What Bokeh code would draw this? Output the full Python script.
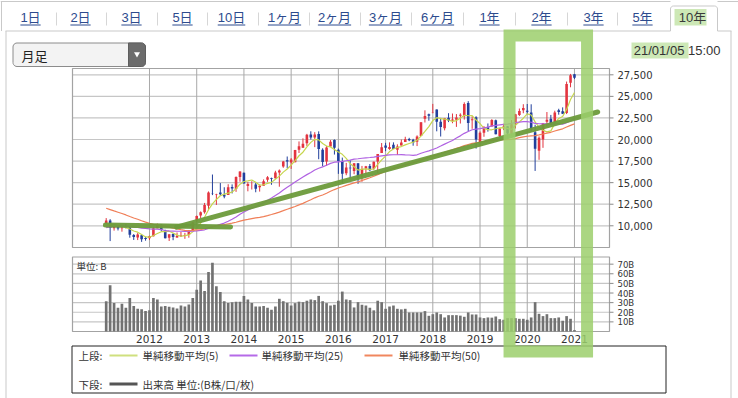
import math
from bokeh.plotting import figure
from bokeh.models import Range1d, ColumnDataSource
from bokeh.core.properties import value
from bokeh.embed import file_html
from bokeh.resources import INLINE

# ---------------- data (monthly, Feb 2011 .. Jan 2021) ----------------
opens = [10274, 10623, 9719, 9850, 9720, 9868, 9805, 8940, 8635, 8898, 8596,
         8549, 8790, 9707, 10109, 9493, 8623, 9049, 8651, 8795, 8812, 8938, 9484,
         10604, 11198, 11581, 12336, 13799, 13627, 13852, 13612, 13572, 14484, 14275, 15655,
         16147, 14619, 14801, 14791, 14457, 14649, 15326, 15500, 15496, 16170, 16862, 17590,
         17325, 17361, 18826, 19034, 19570, 20572, 20235, 20627, 18815, 17446, 19187, 19934,
         18818, 17520, 16085, 16719, 16357, 17251, 15682, 16635, 16926, 16598, 17442, 18435,
         19298, 18914, 19393, 18810, 19310, 19722, 20055, 19986, 19733, 20400, 22420, 22916,
         23074, 23486, 22069, 21292, 22508, 22171, 22303, 22746, 22707, 24245, 22243, 22574,
         19655, 20797, 21416, 21509, 22238, 20410, 21422, 21540, 20681, 21831, 22851, 23388,
         23319, 23129, 20850, 18686, 19991, 22062, 22420, 21963, 23377, 23262, 23075, 26580,
         27575]
highs = [10891, 10768, 9849, 10017, 9876, 10207, 9868, 9040, 9152, 8990, 8723,
         8860, 9866, 10255, 10190, 9542, 9034, 9136, 9222, 9288, 9180, 9496, 10433,
         11191, 11662, 12650, 13980, 15942, 13711, 14953, 14466, 14817, 14799, 15727, 16320,
         16164, 15062, 15164, 15007, 14800, 15376, 15759, 15579, 16374, 16533, 17520, 18030,
         17850, 18798, 19778, 20133, 20655, 20952, 20850, 20946, 18982, 19251, 19937, 20012,
         18951, 17905, 17291, 17613, 17251, 17251, 16938, 16940, 17159, 17446, 18322, 19592,
         19615, 19668, 19668, 19445, 19998, 20318, 20196, 20080, 20481, 22012, 23382, 23000,
         24129, 23486, 22502, 22500, 23050, 23011, 22949, 23032, 24306, 24448, 22698, 22698,
         20940, 21556, 21860, 22362, 22307, 21286, 21823, 21540, 22255, 22974, 23592, 24092,
         24115, 24083, 21719, 20365, 21917, 23185, 22851, 23338, 23564, 23725, 26716, 27602,
         27602]
lows = [10250, 8227, 9441, 9460, 9318, 9696, 8619, 8359, 8343, 8135, 8272,
        8349, 8765, 9707, 9388, 8541, 8238, 8328, 8604, 8700, 8489, 8619, 9446,
        10434, 10880, 11406, 11805, 13555, 12415, 13505, 13188, 13572, 13748, 13932, 15112,
        14914, 13995, 14203, 13885, 13964, 14649, 15090, 14753, 15462, 14529, 16720, 16672,
        16592, 17361, 18437, 19034, 19258, 19990, 19115, 17714, 16901, 16930, 19187, 18256,
        16017, 14865, 15861, 15471, 15975, 14864, 15106, 15998, 16359, 16484, 16111, 18435,
        18650, 18805, 18909, 18224, 19310, 19722, 19807, 19280, 19240, 20400, 21972, 22177,
        23037, 20950, 20347, 21056, 22018, 21888, 21462, 21851, 22307, 20971, 21243, 18948,
        19241, 20315, 20911, 21509, 20601, 20289, 21087, 20110, 20409, 21276, 22726, 23044,
        22892, 20916, 16358, 17646, 19035, 21529, 21710, 21963, 22878, 22948, 22948, 26055,
        27002]
closes = [10624, 9755, 9849, 9693, 9816, 9833, 8955, 8700, 8988, 8434, 8455,
          8803, 9723, 10084, 9521, 8543, 9007, 8695, 8840, 8870, 8928, 9446, 10395,
          11139, 11559, 12398, 13861, 13775, 13677, 13668, 13389, 14456, 14328, 15662, 16291,
          14915, 14841, 14828, 14304, 14632, 15162, 15621, 15425, 16174, 16414, 17460, 17451,
          17674, 18798, 19207, 19520, 20563, 20236, 20585, 18890, 17388, 19083, 19747, 19034,
          17518, 16027, 16759, 16666, 17235, 15576, 16569, 16887, 16450, 17425, 18308, 19114,
          19041, 19119, 18909, 19197, 19651, 20033, 19925, 19646, 20356, 22012, 22725, 22765,
          23098, 22068, 21454, 22468, 22202, 22305, 22554, 22865, 24120, 21920, 22351, 20015,
          20773, 21385, 21206, 22259, 20601, 21276, 21521, 20704, 21756, 22927, 23294, 23657,
          23205, 21143, 18917, 20194, 21878, 22288, 21710, 23140, 23185, 22977, 26434, 27444,
          27158]
# volume, billions of shares
volumes = [31.5, 48, 29.5, 24.7, 28.8, 24.7, 34.7, 26.4, 23.6, 23, 21.2,
           22, 34.7, 33.3, 26, 26.4, 25.7, 25, 24, 27, 26, 28, 34.7,
           43.4, 53, 42, 61.8, 71.5, 47, 41, 31.5, 29.5, 30.5, 31, 31,
           37, 33.3, 29.5, 26, 26, 26.5, 24.7, 22.6, 26, 34, 31.5, 29.8,
           27, 29.5, 31, 30.5, 32, 33.3, 32.6, 37, 31.5, 29.5, 27, 27.8,
           32, 41.5, 33.3, 32.6, 25, 30.5, 27.8, 27, 24.7, 22, 32, 30.5,
           23.6, 26, 27, 23.6, 23, 23.6, 19.8, 19.8, 19.8, 19.8, 21.2, 16.3,
           18, 19.8, 18, 14.6, 17, 17, 17, 16.5, 15.3, 19.8, 17.7, 17.7,
           14.6, 13.9, 14.6, 14.4, 15.6, 12.8, 12.2, 13.9, 13.9, 13.9, 13.2, 13.2,
           12.2, 14.6, 30.5, 18.4, 16, 18, 13.9, 13.9, 14.6, 11.2, 16, 13.2,
           1.5]
# closes before the first candle (Jan 2007 .. Jan 2011), used by the moving averages
closes_before = [17383, 17604, 17288, 17400, 17875, 18138, 17248, 16569, 16785, 16737, 15680, 15307,
                 13592, 13603, 12525, 13849, 14338, 13481, 13376, 13072, 11259, 8576, 8512, 8859,
                 7994, 7568, 8109, 8828, 9522, 9958, 10356, 10492, 10133, 10034, 9345, 10546,
                 10198, 10126, 11089, 11057, 9768, 9382, 9537, 8824, 9369, 9202, 9937, 10228,
                 10237]
first_year, first_month = 2011, 2
year_labels = ["2012", "2013", "2014", "2015", "2016", "2017", "2018", "2019", "2020", "2021"]
price_ticks = [10000, 12500, 15000, 17500, 20000, 22500, 25000, 27500]
price_tick_labels = ["10,000", "12,500", "15,000", "17,500", "20,000", "22,500", "25,000", "27,500"]
vol_ticks = [10, 20, 30, 40, 50, 60, 70]
vol_tick_labels = ["10B", "20B", "30B", "40B", "50B", "60B", "70B"]
ma_periods = [5, 25, 50]
ma_names = ["単純移動平均(5)", "単純移動平均(25)", "単純移動平均(50)"]
tab_labels = ["1日", "2日", "3日", "5日", "10日", "1ヶ月", "2ヶ月", "3ヶ月", "6ヶ月",
              "1年", "2年", "3年", "5年", "10年"]
selected_tab = "10年"
period_label = "月足"
timestamp_date = "21/01/05"
timestamp_time = "15:00"
volume_unit = "単位: B"
legend_upper = "上段:"
legend_lower = "下段:"
legend_volume = "出来高 単位:(B株/口/枚)"
# hand-drawn trend lines (month index, price)
trend_a_month = [-0.2, 31.6]
trend_a_price = [10090, 9860]
trend_b_month = [17.9, 124.9]
trend_b_price = [9850, 23190]
# highlighted period (month index span)
highlight_months = [102.5, 122.2]

# ---------------- layout (page pixels) ----------------
W, H = 738, 398
LEFT, TOP = 0, 0
X_M0, X_MD = 105.7, 3.935            # month index -> page x
P_REF, Y_REF, P_SC = 27500, 74.3, 0.008628   # price -> page y
V_ZERO_Y, V_SC = 331.0, 0.962        # volume -> page y
PF = (72, 68, 609, 247)              # price frame l, t, r, b
VF = (72, 256.5, 609, 331)           # volume frame

def price_at(y):
    return P_REF - (y - Y_REF) / P_SC

def vol_at(y):
    return (V_ZERO_Y - y) / V_SC

p = figure(width=W, height=H, output_backend="svg", toolbar_location=None,
           x_range=Range1d(LEFT, LEFT + W), y_range=Range1d(TOP + H, TOP),
           x_axis_type=None, y_axis_type=None, min_border=0,
           outline_line_color=None, background_fill_color="white",
           border_fill_color="white")
p.extra_x_ranges = {"m": Range1d((LEFT - X_M0) / X_MD, (LEFT + W - X_M0) / X_MD)}
p.extra_y_ranges = {"price": Range1d(price_at(TOP + H), price_at(TOP)),
                    "vol": Range1d(vol_at(TOP + H), vol_at(TOP))}

JP = value("Noto Sans CJK JP")
LAT = value("Liberation Sans, Noto Sans CJK JP")
DV = value("DejaVu Sans")
DVC = value("DejaVu Sans Condensed")

def rounded(x0, y0, x1, y1, r, corners=(1, 1, 1, 1)):
    # corners: top-left, top-right, bottom-right, bottom-left (page coords, y down)
    xs, ys = [], []
    spec = [((x0 + r, y0 + r), 180, 270, (x0, y0)),
            ((x1 - r, y0 + r), 270, 360, (x1, y0)),
            ((x1 - r, y1 - r), 0, 90, (x1, y1)),
            ((x0 + r, y1 - r), 90, 180, (x0, y1))]
    for use, ((cx, cy), a0, a1, corner) in zip(corners, spec):
        if not use:
            xs.append(corner[0])
            ys.append(corner[1])
            continue
        for k in range(7):
            a = math.radians(a0 + (a1 - a0) * k / 6)
            xs.append(cx + r * math.cos(a))
            ys.append(cy + r * math.sin(a))
    return xs, ys

# ---------------- panel / tabs ----------------
panel = "#c9c9c9"
p.segment(x0=[5, 717, 0, 717], x1=[670, 731, 670, 738], y0=[30.5, 30.5, 1, 1], y1=[30.5, 30.5, 1, 1],
          line_color=panel, line_width=1)
p.segment(x0=[5.5, 730.5, 1], x1=[5.5, 730.5, 1], y0=[30.5, 30.5, 1], y1=[398, 398, 30.5], line_color=panel)
tx, ty = rounded(670, 5.5, 717, 40, 3, (1, 1, 0, 0))
p.line(x=tx[:14], y=ty[:14], line_color=panel)
p.segment(x0=[670, 717], x1=[670, 717], y0=[8, 8], y1=[30.5, 30.5], line_color=panel)

tab_x = [30, 80, 131, 182, 231, 284, 334, 385, 437, 489, 541, 593, 642, 692]
sep_x = [56, 106, 157, 207, 258, 309, 360, 411, 463, 515, 567, 617]
p.segment(x0=sep_x, x1=sep_x, y0=[12] * len(sep_x), y1=[25] * len(sep_x), line_color="#d6d6d6")
sel = tab_labels.index(selected_tab)
p.quad(left=[674], right=[706], top=[8.5], bottom=[25], fill_color="#c8e6ae", fill_alpha=0.9, line_color=None)
fs = 13
ux0, ux1 = [], []
for i, lab in enumerate(tab_labels):
    if i == sel:
        continue
    w = sum(fs * 0.56 if ord(c) < 128 else fs for c in lab)
    ux0.append(tab_x[i] - w / 2)
    ux1.append(tab_x[i] + w / 2)
p.segment(x0=ux0, x1=ux1, y0=[24.5] * len(ux0), y1=[24.5] * len(ux0), line_color="#2d4b8e", line_width=1)
p.text(x=[tab_x[i] for i in range(len(tab_labels)) if i != sel], y=[17] * (len(tab_labels) - 1),
       text=[l for i, l in enumerate(tab_labels) if i != sel], text_align="center", text_baseline="middle",
       text_font=LAT, text_font_size=f"{fs}px", text_color="#2d4b8e")
p.text(x=[tab_x[sel]], y=[17], text=[selected_tab], text_align="center", text_baseline="middle",
       text_font=LAT, text_font_size=f"{fs}px", text_color="#3a3a3a")

# ---------------- dropdown ----------------
dx, dy = rounded(12.5, 42.5, 145, 66, 4)
p.patch(x=dx, y=dy, fill_color="#f3f3f3", line_color="#8c8c8c", line_width=1)
bx, by = rounded(128, 42.5, 145, 66, 4, (0, 1, 1, 0))
p.patch(x=bx, y=by, fill_color="#6c6c6c", line_color="#5e5e5e")
p.scatter(x=[136.5], y=[53.5], marker="inverted_triangle", size=6, fill_color="white", line_color=None)
p.text(x=[21], y=[54.5], text=[period_label], text_align="left", text_baseline="middle",
       text_font=JP, text_font_size="13px", text_color="#222222")

# ---------------- timestamp ----------------
p.quad(left=[631], right=[688], top=[42], bottom=[58], fill_color="#c8e6ae", fill_alpha=0.9, line_color=None)
p.text(x=[720], y=[50], text=[timestamp_date + " " + timestamp_time], text_align="right",
       text_baseline="middle", text_font=value("Liberation Sans"), text_font_size="13px", text_color="#333333")

# ---------------- grids & frames ----------------
year_idx = [(int(y) - first_year) * 12 + 1 - first_month for y in year_labels]
hgrid = "#c6c6c6"
vgrid = "#a9a9a9"
p.segment(x0=[PF[0]] * len(price_ticks), x1=[PF[2]] * len(price_ticks), y0=price_ticks, y1=price_ticks,
          y_range_name="price", line_color=hgrid, line_width=1.2)
p.segment(x0=[VF[0]] * len(vol_ticks), x1=[VF[2]] * len(vol_ticks), y0=vol_ticks, y1=vol_ticks,
          y_range_name="vol", line_color=hgrid, line_width=1.2)
p.segment(x0=year_idx, x1=year_idx, y0=[PF[1]] * len(year_idx), y1=[PF[3]] * len(year_idx),
          x_range_name="m", line_color=vgrid)
p.segment(x0=year_idx, x1=year_idx, y0=[VF[1]] * len(year_idx), y1=[VF[3]] * len(year_idx),
          x_range_name="m", line_color=vgrid)
for fr in (PF, VF):
    p.quad(left=[fr[0]], right=[fr[2]], top=[fr[1]], bottom=[fr[3]], fill_alpha=0,
           line_color="#a3a3a3", line_width=1.2)

# ---------------- volume bars ----------------
idx = list(range(len(closes)))
p.vbar(x=idx, top=volumes, bottom=0, width=0.68, x_range_name="m", y_range_name="vol",
       fill_color="#727272", line_color=None)

# ---------------- candles ----------------
up_col, dn_col = "#e3343f", "#213f9c"
cols = [up_col if c >= o else dn_col for o, c in zip(opens, closes)]
src = ColumnDataSource(dict(x=idx, o=opens, h=highs, l=lows, c=closes,
                            top=[max(o, c) for o, c in zip(opens, closes)],
                            bot=[min(o, c) for o, c in zip(opens, closes)], col=cols))
p.segment(x0="x", x1="x", y0="h", y1="l", source=src, line_color="col", line_width=1,
          x_range_name="m", y_range_name="price")
p.vbar(x="x", top="top", bottom="bot", width=0.66, source=src, fill_color="col", line_color=None,
       x_range_name="m", y_range_name="price")

# ---------------- moving averages ----------------
ma_colors = ["#c6d64e", "#b062e2", "#f07f58"]
all_closes = closes_before + closes
nb = len(closes_before)
for n, colr in zip(ma_periods, ma_colors):
    ma = [sum(all_closes[nb + k - n + 1: nb + k + 1]) / n for k in idx]
    p.line(x=idx, y=ma, line_color=colr, line_width=1.2, x_range_name="m", y_range_name="price")

# ---------------- trend lines ----------------
p.line(x=trend_a_month, y=trend_a_price, line_color="#6d9b3b", line_width=5, line_alpha=0.95,
       line_cap="round", x_range_name="m", y_range_name="price")
p.line(x=trend_b_month, y=trend_b_price, line_color="#6d9b3b", line_width=5, line_alpha=0.95,
       line_cap="round", x_range_name="m", y_range_name="price")

# ---------------- right axis labels ----------------
p.segment(x0=[PF[2]] * len(price_ticks), x1=[PF[2] + 4] * len(price_ticks), y0=price_ticks, y1=price_ticks,
          y_range_name="price", line_color="#8a8a8a")
p.text(x=[617] * len(price_ticks), y=price_ticks, text=price_tick_labels, y_range_name="price",
       text_align="left", text_baseline="middle", text_font=DV, text_font_size="10px", text_color="#333333")
p.segment(x0=[VF[2]] * len(vol_ticks), x1=[VF[2] + 4] * len(vol_ticks), y0=vol_ticks, y1=vol_ticks,
          y_range_name="vol", line_color="#8a8a8a")
p.text(x=[617] * len(vol_ticks), y=vol_ticks, text=vol_tick_labels, y_range_name="vol",
       text_align="left", text_baseline="middle", text_font=DVC, text_font_size="9.5px", text_color="#333333")
p.text(x=year_idx, y=[338.5] * len(year_idx), text=year_labels, x_range_name="m",
       text_align="center", text_baseline="middle", text_font=DV, text_font_size="10.5px", text_color="#333333")
p.text(x=[76], y=[265], text=[volume_unit], text_align="left", text_baseline="middle",
       text_font=JP, text_font_size="9.5px", text_color="#333333")

# ---------------- legend ----------------
p.quad(left=[71.5], right=[665.5], top=[345.5], bottom=[392.5], fill_color="white", line_color="#222222")
lf = "10.5px"
p.text(x=[78, 78], y=[355, 383.5], text=[legend_upper, legend_lower], text_align="left", text_baseline="middle",
       text_font=JP, text_font_size=lf, text_color="#333333")
leg_line_x = [109, 229, 364]
leg_text_x = [142, 261, 398]
p.segment(x0=leg_line_x, x1=[x + 28 for x in leg_line_x], y0=[355] * 3, y1=[355] * 3,
          line_color=["#cfe07e", "#b56ae8", "#f0875e"], line_width=2)
p.text(x=leg_text_x, y=[355] * 3, text=ma_names, text_align="left", text_baseline="middle",
       text_font=JP, text_font_size=lf, text_color="#333333")
p.segment(x0=[109], x1=[137], y0=[383.5], y1=[383.5], line_color="#555555", line_width=3)
p.text(x=[142], y=[383.5], text=[legend_volume], text_align="left", text_baseline="middle",
       text_font=JP, text_font_size=lf, text_color="#333333")

# ---------------- highlight box ----------------
p.quad(left=[highlight_months[0]], right=[highlight_months[1]], top=[35], bottom=[351],
       x_range_name="m", fill_alpha=0, line_color="#9ccf6c", line_alpha=0.85, line_width=12,
       line_join="miter")

open("out.html", "w").write(file_html(p, INLINE))
